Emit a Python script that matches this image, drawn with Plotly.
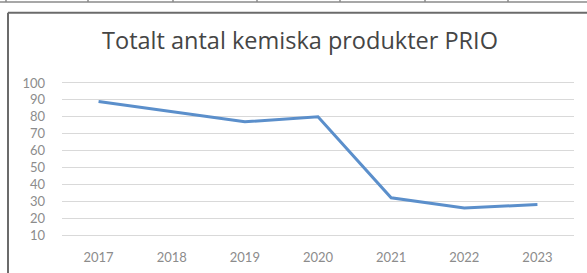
import plotly.graph_objects as go

years = ["2017", "2018", "2019", "2020", "2021", "2022", "2023"]
values = [89, 83, 77, 80, 32, 26, 28]
title_text = "Totalt antal kemiska produkter PRIO"

W, H = 587, 273
OFF = 0  # body margin removed via post_script
# plot area in screen pixels: x 62..574, y 83..235
L = 62 - OFF
T = 83 - OFF
R = W - (574 - OFF)
B = H - (235 - OFF)
pw, ph = W - L - R, H - T - B

def px(sx):
    return (sx - OFF - L) / pw

def py(sy):
    return (H - B - (sy - OFF)) / ph

fig = go.Figure()
fig.add_trace(go.Scatter(
    x=years, y=values, mode="lines",
    line=dict(color="#5b8fcb", width=3),
    hoverinfo="skip", showlegend=False,
))

shapes = [
    # chart frame (left and top edges)
    dict(type="line", xref="paper", yref="paper", x0=px(8), x1=px(8), y0=py(12.7), y1=py(290),
         line=dict(color="#6b6b6b", width=2)),
    dict(type="line", xref="paper", yref="paper", x0=px(8), x1=px(600), y0=py(12.7), y1=py(12.7),
         line=dict(color="#6b6b6b", width=2)),
    # spreadsheet cell line at top
    dict(type="line", xref="paper", yref="paper", x0=px(-10), x1=px(600), y0=py(2), y1=py(2),
         line=dict(color="#8a8a8a", width=1.5)),
]
for xm in [6, 88, 173, 257, 340, 425, 508]:
    shapes.append(dict(type="line", xref="paper", yref="paper", x0=px(xm), x1=px(xm),
                       y0=py(-10), y1=py(2), line=dict(color="#8a8a8a", width=1.5)))

fig.update_layout(
    width=W, height=H,
    margin=dict(l=L, r=R, t=T, b=B, autoexpand=False),
    paper_bgcolor="white", plot_bgcolor="white",
    title=dict(text=title_text, xref="container", x=(300 - OFF) / W, xanchor="center",
               yref="container", y=1 - (41 - OFF) / H, yanchor="middle",
               font=dict(family="Open Sans", size=23.5, color="#454545")),
    font=dict(family="Lato", size=13, color="#8c8c8c"),
    shapes=shapes,
    xaxis=dict(range=[-0.5, 6.5], showgrid=False, showline=True, mirror=True,
               linecolor="#d9d9d9", linewidth=1, automargin=False,
               ticks="", ticklabelstandoff=10, fixedrange=True),
    yaxis=dict(range=[10, 100], dtick=10, tick0=10, showgrid=True, gridcolor="#d9d9d9",
               gridwidth=1, zeroline=False, showline=False, ticks="", automargin=False,
               ticklabelstandoff=16, fixedrange=True),
)

fig.write_html("out.html", config={"displayModeBar": False, "staticPlot": True},
               post_script="document.body.style.margin='0';")
